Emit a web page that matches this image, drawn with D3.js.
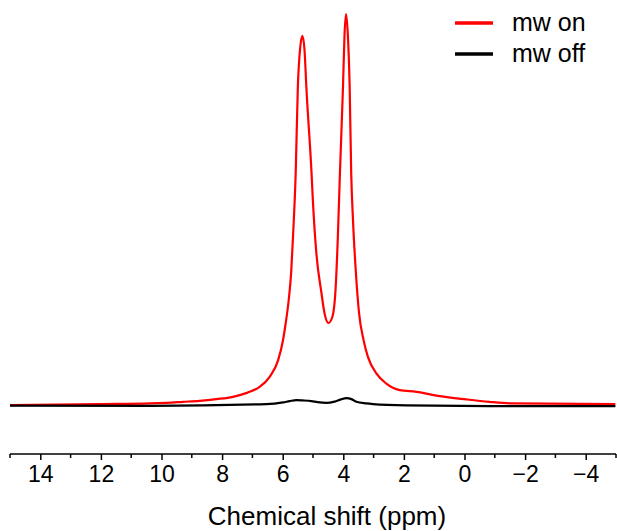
<!DOCTYPE html>
<html>
<head>
<meta charset="utf-8">
<script src="https://cdn.jsdelivr.net/npm/d3@7"></script>
<style>
  html, body { margin: 0; padding: 0; background: #fff; }
  svg { display: block; font-family: "Liberation Sans", Arial, sans-serif; }
</style>
</head>
<body>
<div id="app"></div>
<script>
// chemical shift (ppm) / intensity (a.u.)
const mw_on_ppm = [15.0, 12.03, 10.38, 9.83, 9.29, 8.74, 8.19, 7.64, 7.09, 6.76, 6.43, 6.15, 5.99, 5.90, 5.80, 5.72, 5.66, 5.57, 5.50, 5.43, 5.35, 5.28, 5.22, 5.05, 5.00, 4.89, 4.72, 4.62, 4.49, 4.36, 4.25, 4.18, 4.11, 4.01, 3.96, 3.91, 3.85, 3.79, 3.74, 3.68, 3.59, 3.48, 3.33, 3.19, 2.91, 2.58, 2.14, 1.59, 0.82, -0.06, -0.82, -1.58, -4.98]
const mw_on_int = [0, 0.26, 0.43, 0.59, 0.84, 1.10, 1.53, 2.12, 3.40, 4.68, 7.24, 11.5, 16.6, 21.0, 27.0, 34.0, 43.0, 59.6, 81.4, 90.8, 94.4, 90.8, 81.4, 59.6, 51.7, 38.9, 28.6, 23.5, 21.0, 22.6, 30.3, 43.0, 59.6, 81.4, 94.6, 100, 94.6, 81.4, 59.6, 47.3, 34.5, 23.5, 16.6, 12.4, 8.1, 5.5, 3.84, 3.40, 2.30, 1.46, 0.84, 0.43, 0.26]

const mw_off_ppm = [15.0, 10.38, 6.54, 5.99, 5.77, 5.55, 5.34, 5.05, 4.85, 4.56, 4.29, 4.09, 3.90, 3.73, 3.57, 3.24, 3.02, 1.92, -0.82, -4.98]
const mw_off_int = [-0.13, -0.18, 0.26, 0.69, 1.02, 1.28, 1.20, 1.02, 0.77, 0.59, 0.90, 1.41, 1.79, 1.53, 0.84, 0.43, 0.26, -0.08, -0.26, -0.26]

const tick_values = [14, 12, 10, 8, 6, 4, 2, 0, -2, -4]
const minor_ticks = [15, 13, 11, 9, 7, 5, 3, 1, -1, -3, -5]
const series_names = ['mw on', 'mw off']
const series_colors = ['#ff0000', '#000000']

const width = 617
const height = 531

const x_scale = d3.scaleLinear().domain([15, -5]).range([10, 616])
const y_scale = d3.scaleLinear().domain([-12.5, 100]).range([454, 14])

const svg = d3.create('svg')
    .attr('width', width)
    .attr('height', height)
    .attr('viewBox', [0, 0, width, height])

const line = d3.line()
    .x(d => x_scale(d[0]))
    .y(d => y_scale(d[1]))
    .curve(d3.curveMonotoneX)

const series = [
    d3.zip(mw_on_ppm, mw_on_int),
    d3.zip(mw_off_ppm, mw_off_int)
]

svg.append('g')
    .selectAll('path')
    .data(series)
    .join('path')
    .attr('d', line)
    .attr('fill', 'none')
    .attr('stroke', (d, i) => series_colors[i])
    .attr('stroke-width', 2.2)
    .attr('stroke-linejoin', 'round')

// x axis
const axis = svg.append('g')
    .attr('transform', `translate(0, 454)`)

axis.append('g')
    .selectAll('line')
    .data(minor_ticks)
    .join('line')
    .attr('x1', d => x_scale(d))
    .attr('x2', d => x_scale(d))
    .attr('y1', 0)
    .attr('y2', 4)
    .attr('stroke', '#000')
    .attr('stroke-width', 1.5)

axis.call(d3.axisBottom(x_scale).tickValues(tick_values).tickSize(6).tickPadding(6))
    .call(g => g.select('.domain').attr('stroke-width', 1.5).attr('d', `M${x_scale.range()[0]},0H${x_scale.range()[1]}`))
    .call(g => g.selectAll('.tick line').attr('stroke-width', 1.5))
    .call(g => g.selectAll('.tick text')
        .attr('font-size', 23)
        .attr('font-family', '"Liberation Sans", Arial, sans-serif')
        .attr('fill', '#000'))

svg.append('text')
    .attr('x', 327)
    .attr('y', 525)
    .attr('text-anchor', 'middle')
    .attr('font-size', 26)
    .attr('fill', '#000')
    .text('Chemical shift (ppm)')

// legend
const legend = svg.append('g')
    .selectAll('g')
    .data(series_names)
    .join('g')
    .attr('transform', (d, i) => `translate(455, ${23 + i * 31})`)

legend.append('line')
    .attr('x1', 0)
    .attr('x2', 38)
    .attr('stroke', (d, i) => series_colors[i])
    .attr('stroke-width', 3.5)

legend.append('text')
    .attr('x', 57)
    .attr('y', 8)
    .attr('font-size', 25)
    .attr('fill', '#000')
    .text(d => d)

d3.select('#app').append(() => svg.node())
</script>
</body>
</html>
